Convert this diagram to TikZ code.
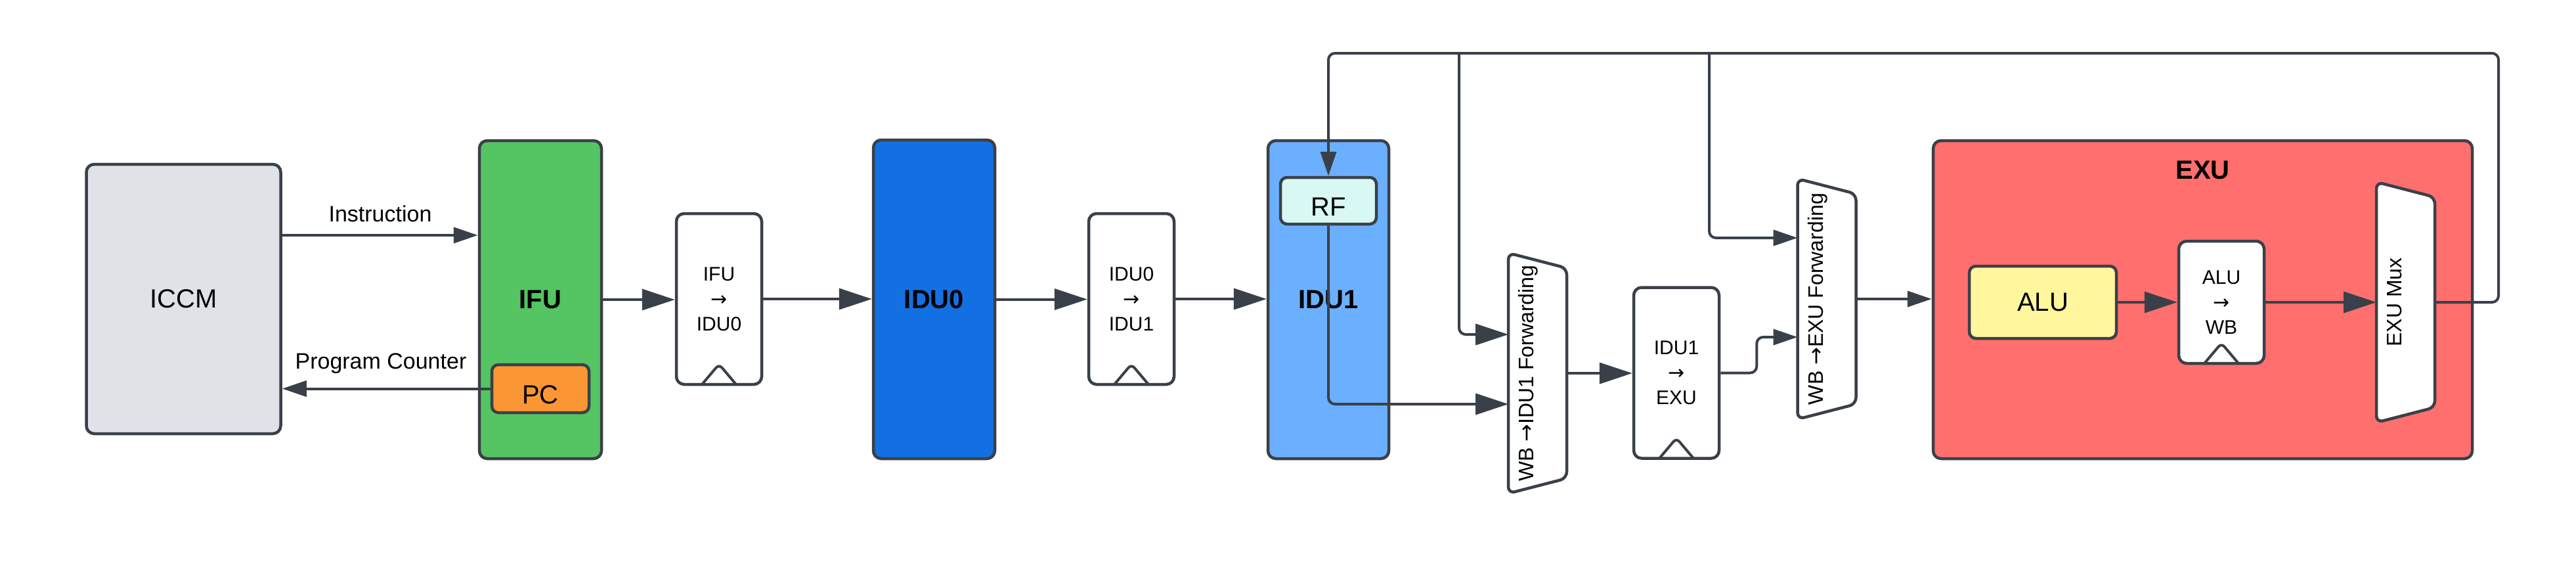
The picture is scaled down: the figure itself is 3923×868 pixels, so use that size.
\documentclass[tikz,border=0pt]{standalone}
\usepackage{fontspec}
\setmainfont{Liberation Sans}
\newfontfamily\arrowfont{DejaVu Sans}
\usetikzlibrary{arrows.meta,calc}
\definecolor{lc}{HTML}{3A4049}
\definecolor{iccmc}{HTML}{DFE2E7}
\definecolor{ifuc}{HTML}{55C462}
\definecolor{pcc}{HTML}{FA9633}
\definecolor{iduzc}{HTML}{1370E2}
\definecolor{iduoc}{HTML}{6BB0FF}
\definecolor{rfc}{HTML}{D7F8F3}
\definecolor{exuc}{HTML}{FF6F6D}
\definecolor{aluc}{HTML}{FFF69E}
\newcommand\myarr{{\arrowfont →}}
\begin{document}
\begin{tikzpicture}[x=1pt,y=-1pt,
  box/.style={draw=lc, line width=4.5pt, rounded corners=12pt, inner sep=0pt},
  lbl/.style={font=\fontsize{40}{48}\selectfont},
  blbl/.style={font=\fontsize{40}{48}\selectfont\bfseries},
  regbox/.style={box, fill=white, minimum width=130pt, minimum height=260pt, align=center, font=\fontsize{30}{38}\selectfont},
  anchorbox/.style={draw=none, inner sep=0pt, outer sep=0pt, minimum width=89pt, minimum height=366pt},
  vtext/.style={rotate=90, inner sep=0pt, font=\fontsize{32}{38}\selectfont},
  wire/.style={draw=lc, line width=4pt, rounded corners=10pt},
  big/.style={wire, -{Triangle[length=50pt,width=32pt]}},
  small/.style={wire, -{Triangle[length=37pt,width=24pt]}},
  clk/.style={draw=lc, line width=4pt, rounded corners=7pt, line join=round},
  edgelbl/.style={anchor=base, inner sep=0pt, font=\fontsize{34}{40}\selectfont}
]
\useasboundingbox (0,0) rectangle (3923,868);

% main blocks
\node[box, fill=iccmc, minimum width=296pt, minimum height=410pt, lbl] (iccm) at (279.5,455) {ICCM};
\node[box, fill=ifuc, minimum width=186pt, minimum height=484pt, blbl] (ifu) at (823,456) {IFU};
\node[box, fill=pcc, rounded corners=10pt, minimum width=148pt, minimum height=73pt] (pc) at (823,591.5) {};
\node[lbl] (pct) at ($(pc)+(0,9)$) {PC};
\node[regbox] (rega) at (1095,455) {IFU\\\myarr\\IDU0};
\node[box, fill=iduzc, minimum width=185pt, minimum height=485pt, blbl] (iduz) at (1422.5,455.5) {IDU0};
\node[regbox] (regb) at (1723,455) {IDU0\\\myarr\\IDU1};
\node[box, fill=iduoc, minimum width=184pt, minimum height=484pt, blbl] (iduo) at (2023,456) {IDU1};
\node[box, fill=rfc, rounded corners=10pt, minimum width=146pt, minimum height=71pt] (rf) at (2023,305.5) {};
\node[lbl] (rft) at ($(rf)+(0,9)$) {RF};
\node[regbox] (regc) at (2553,567.5) {IDU1\\\myarr\\EXU};

% forwarding units
\node[anchorbox] (fwda) at (2341.5,568) {};
\draw[box, fill=white, rounded corners=10pt] (fwda.north west) -- ($(fwda.north east)+(0,23)$) -- ($(fwda.south east)+(0,-23)$) -- (fwda.south west) -- cycle;
\node[vtext] (fwdat) at ($(fwda)+(-14,0)$) {WB \myarr IDU1 Forwarding};

\node[anchorbox] (fwdb) at (2782,455) {};
\draw[box, fill=white, rounded corners=10pt] (fwdb.north west) -- ($(fwdb.north east)+(0,23)$) -- ($(fwdb.south east)+(0,-23)$) -- (fwdb.south west) -- cycle;
\node[vtext] (fwdbt) at ($(fwdb)+(-14,0)$) {WB \myarr EXU Forwarding};

% EXU
\node[box, fill=exuc, minimum width=821pt, minimum height=484pt] (exu) at (3354.5,456) {};
\node[blbl] (exut) at (3354.5,259) {EXU};
\node[box, fill=aluc, rounded corners=10pt, minimum width=224pt, minimum height=110pt, lbl] (alu) at (3111,460) {ALU};
\node[regbox, minimum height=186pt] (regd) at (3383,460) {ALU\\\myarr\\WB};
\node[anchorbox] (mux) at (3663.5,460) {};
\draw[box, fill=white, rounded corners=10pt] (mux.north west) -- ($(mux.north east)+(0,23)$) -- ($(mux.south east)+(0,-23)$) -- (mux.south west) -- cycle;
\node[vtext] (muxt) at ($(mux)+(-17,0)$) {EXU Mux};

% clock triangles
\foreach \r in {rega,regb,regc,regd}{
  \draw[clk] ($(\r.south)+(-27,-1)$) -- ($(\r.south)+(0,-33)$) -- ($(\r.south)+(27,-1)$);
}

% coordinates for the feedback bus
\coordinate (instry) at (0,358);
\coordinate (fbr) at (3805,81);
\coordinate (fba) at (2222,81);
\coordinate (fbb) at (2603,81);

% connectors
\draw[small] (iccm.east |- instry) -- (ifu.west |- instry);
\node[edgelbl] (instrl) at (579,337) {Instruction};
\draw[small] (pc.west) -- (pc.west -| iccm.east);
\node[edgelbl] (pcl) at (580,561) {Program Counter};

\draw[big] (ifu.east) -- (ifu.east -| rega.west);
\draw[big] (rega.east) -- (rega.east -| iduz.west);
\draw[big] (iduz.east) -- (iduz.east -| regb.west);
\draw[big] (regb.east) -- (regb.east -| iduo.west);

\draw[big] (rf.south) |- ($(fwda.west)+(0,47)$);
\draw[small] (mux.east) -| (fbr) -| (rf.north);
\draw[big] (fba) |- ($(fwda.west)+(0,-59)$);
\draw[small] (fbb) |- ($(fwdb.west)+(0,-93)$);

\draw[big] (fwda.east) -- (fwda.east -| regc.west);
\draw[small] (regc.east) -- ++(55,0) |- ($(fwdb.west)+(0,58)$);
\draw[small] (fwdb.east) -- (fwdb.east -| exu.west);
\draw[big] (alu.east) -- (alu.east -| regd.west);
\draw[big] (regd.east) -- (regd.east -| mux.west);
\end{tikzpicture}
\end{document}
